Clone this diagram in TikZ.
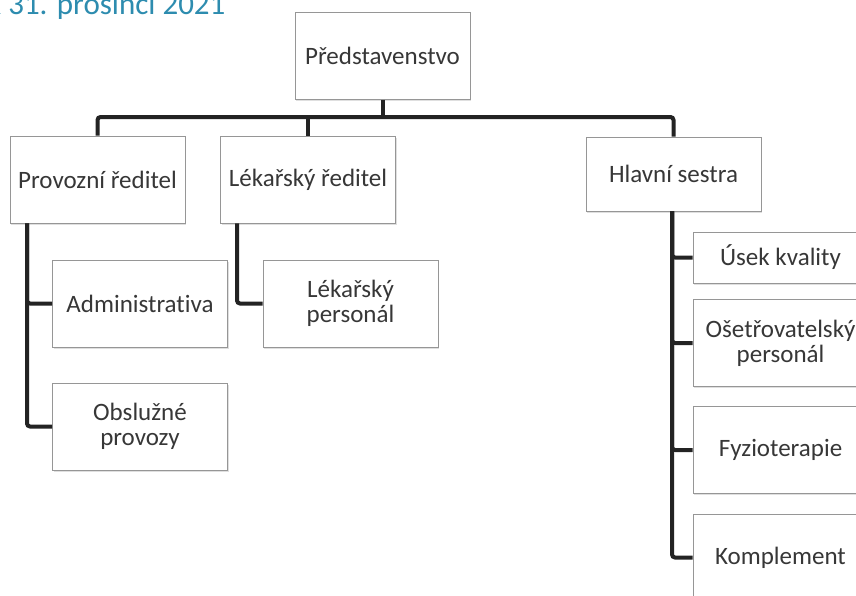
\documentclass[tikz,border=0pt]{standalone}
\usepackage{fontspec}
\setmainfont{Carlito}[Ligatures=NoCommon]
\usetikzlibrary{shadows}
\definecolor{txt}{RGB}{55,55,55}
\definecolor{ttl}{RGB}{45,140,175}
\definecolor{conncol}{RGB}{35,35,35}
\definecolor{boxline}{RGB}{150,150,150}
\tikzset{
  orgbox/.style={draw=boxline, line width=0.7pt, fill=white, minimum width=175pt,
    minimum height=87pt, inner sep=2pt, align=center, text=txt,
    font=\fontsize{25}{25}\selectfont,
    drop shadow={shadow xshift=1.2pt, shadow yshift=-1.5pt, opacity=0.25, fill=gray}},
  conn/.style={draw=conncol, line width=4pt, rounded corners=3pt}
}
\begin{document}
\begin{tikzpicture}[x=1pt,y=-1pt]
\useasboundingbox (0,0) rectangle (856,595);
\fill[white] (0,0) rectangle (856,595);
\node[anchor=base west, text=ttl, font=\fontsize{31}{34}\selectfont, inner sep=0pt] (title) at (-13,14) {k 31. prosinci 2021};
% nodes
\node[orgbox] (top) at (382.5,56) {Představenstvo};
\node[orgbox] (prov) at (97.5,179.5) {Provozní ředitel};
\node[orgbox] (lek) at (308,179.5) {Lékařský ředitel};
\node[orgbox, minimum height=74pt] (hs) at (673.5,174) {Hlavní sestra};
\node[orgbox] (adm) at (140,303.5) {Administrativa};
\node[orgbox] (obs) at (140,426.5) {Obslužné\\provozy};
\node[orgbox] (lekp) at (350.5,303.5) {Lékařský\\personál};
\node[orgbox, minimum height=51pt] (usek) at (780.5,257.5) {Úsek kvality};
\node[orgbox] (oset) at (780.5,343) {Ošetřovatelský\\personál};
\node[orgbox] (fyz) at (780.5,450) {Fyzioterapie};
\node[orgbox] (kom) at (780.5,557.5) {Komplement};
% connectors
\coordinate (bus) at (0,117);
\draw[conn] (prov.north) |- (bus -| hs.north) -- (hs.north);
\draw[conn] (top.south) -- (top.south |- bus);
\draw[conn] (lek.north) -- (lek.north |- bus);
\coordinate (pv) at (27,0);
\draw[conn] (prov.south -| pv) |- (adm.west);
\draw[conn] (prov.south -| pv) |- (obs.west);
\coordinate (lv) at (237,0);
\draw[conn] (lek.south -| lv) |- (lekp.west);
\coordinate (hv) at (672,0);
\draw[conn] (hs.south -| hv) |- (usek.west);
\draw[conn] (hs.south -| hv) |- (oset.west);
\draw[conn] (hs.south -| hv) |- (fyz.west);
\draw[conn] (hs.south -| hv) |- (kom.west);
\end{tikzpicture}
\end{document}
